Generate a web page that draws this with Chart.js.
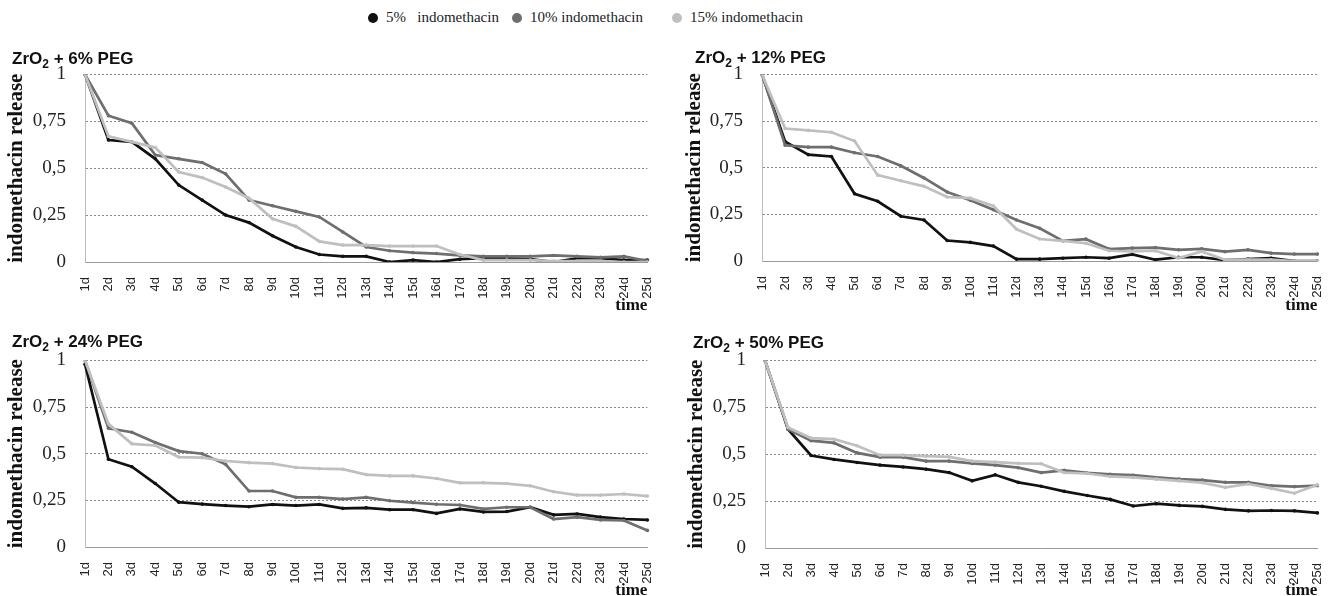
<!DOCTYPE html>
<html>
<head>
<meta charset="utf-8">
<script src="https://cdn.jsdelivr.net/npm/chart.js@4"></script>
<style>
  body { margin: 0; background: #fff; width: 1340px; height: 596px; position: relative; overflow: hidden; }
  canvas { position: absolute; }
  .item { position: absolute; top: 9px; display: flex; align-items: center; font: 15px "Liberation Serif", serif; color: #222; white-space: pre; }
  .dot { width: 10px; height: 10px; border-radius: 50%; margin-right: 8px; }
  .ptitle { position: absolute; font: bold 17px "Liberation Sans", sans-serif; line-height: 20px; color: #111; white-space: pre; }
  .ptitle sub { font-size: 12px; vertical-align: -4px; line-height: 0; }
</style>
</head>
<body>
<canvas id="c6" width="670" height="272" style="left:0;top:44px"></canvas>
<canvas id="c12" width="660" height="272" style="left:680px;top:44px"></canvas>
<canvas id="c24" width="670" height="276" style="left:0;top:330px"></canvas>
<canvas id="c50" width="660" height="276" style="left:680px;top:330px"></canvas>
<script>
const days = ["1d","2d","3d","4d","5d","6d","7d","8d","9d","10d","11d","12d","13d",
  "14d","15d","16d","17d","18d","19d","20d","21d","22d","23d","24d","25d"];
const seriesNames = ["5%   indomethacin", "10% indomethacin", "15% indomethacin"];
const seriesColors = ["#111111", "#6e6e6e", "#bfbfbf"];
const panelPeg = ["6%", "12%", "24%", "50%"];
const yTickValues = [0, 0.25, 0.5, 0.75, 1];
const yTickLabels = ["0", "0,25", "0,5", "0,75", "1"];

// ZrO2 + 6% PEG
const peg6_5 = [1, 0.65, 0.64, 0.55, 0.41, 0.33, 0.25, 0.21, 0.14, 0.08, 0.04, 0.03, 0.03, 0.0, 0.01, 0.0, 0.015, 0.02, 0.02, 0.015, 0.0, 0.02, 0.02, 0.01, 0.01];
const peg6_10 = [1, 0.78, 0.74, 0.57, 0.55, 0.53, 0.47, 0.33, 0.30, 0.27, 0.24, 0.16, 0.08, 0.06, 0.05, 0.045, 0.035, 0.03, 0.03, 0.03, 0.035, 0.03, 0.025, 0.03, 0.005];
const peg6_15 = [1, 0.67, 0.64, 0.61, 0.48, 0.45, 0.40, 0.34, 0.23, 0.19, 0.11, 0.09, 0.09, 0.085, 0.085, 0.085, 0.04, 0.01, 0.01, 0.01, 0.005, 0.005, 0.005, 0, 0];

// ZrO2 + 12% PEG
const peg12_5 = [1, 0.64, 0.57, 0.56, 0.36, 0.32, 0.24, 0.22, 0.11, 0.10, 0.08, 0.01, 0.01, 0.015, 0.02, 0.015, 0.035, 0.007, 0.02, 0.02, 0.005, 0.01, 0.015, 0, 0];
const peg12_10 = [1, 0.62, 0.61, 0.61, 0.58, 0.56, 0.51, 0.445, 0.37, 0.325, 0.275, 0.22, 0.175, 0.108, 0.117, 0.064, 0.069, 0.072, 0.06, 0.065, 0.05, 0.06, 0.042, 0.037, 0.037];
const peg12_15 = [1, 0.71, 0.70, 0.69, 0.643, 0.46, 0.43, 0.40, 0.343, 0.337, 0.295, 0.17, 0.118, 0.108, 0.095, 0.055, 0.051, 0.055, 0.016, 0.051, 0.007, 0.007, 0.007, 0, 0];

// ZrO2 + 24% PEG
const peg24_5 = [0.98, 0.47, 0.43, 0.34, 0.24, 0.23, 0.222, 0.216, 0.228, 0.222, 0.228, 0.207, 0.21, 0.2, 0.2, 0.18, 0.204, 0.188, 0.19, 0.213, 0.172, 0.177, 0.16, 0.15, 0.145];
const peg24_10 = [1, 0.636, 0.615, 0.56, 0.514, 0.5, 0.443, 0.30, 0.30, 0.266, 0.266, 0.257, 0.266, 0.248, 0.238, 0.229, 0.225, 0.204, 0.213, 0.213, 0.15, 0.16, 0.145, 0.142, 0.089];
const peg24_15 = [1, 0.66, 0.553, 0.544, 0.482, 0.479, 0.461, 0.452, 0.447, 0.426, 0.42, 0.417, 0.388, 0.381, 0.381, 0.367, 0.344, 0.344, 0.34, 0.328, 0.296, 0.278, 0.278, 0.284, 0.273];

// ZrO2 + 50% PEG
const peg50_5 = [1, 0.633, 0.493, 0.472, 0.456, 0.442, 0.432, 0.42, 0.402, 0.358, 0.39, 0.35, 0.329, 0.302, 0.28, 0.259, 0.224, 0.236, 0.227, 0.222, 0.206, 0.198, 0.2, 0.198, 0.187];
const peg50_10 = [1, 0.633, 0.572, 0.56, 0.507, 0.484, 0.484, 0.463, 0.463, 0.451, 0.442, 0.428, 0.402, 0.414, 0.4, 0.393, 0.388, 0.376, 0.367, 0.362, 0.35, 0.35, 0.332, 0.327, 0.332];
const peg50_15 = [1, 0.642, 0.586, 0.58, 0.545, 0.495, 0.495, 0.49, 0.486, 0.463, 0.458, 0.451, 0.449, 0.402, 0.397, 0.381, 0.376, 0.367, 0.358, 0.348, 0.323, 0.341, 0.318, 0.292, 0.337];

// legend on top (html)
const legendLeft = [368, 512, 672];
seriesNames.forEach((name, i) => {
  const item = document.createElement("div");
  item.className = "item";
  item.style.left = legendLeft[i] + "px";
  item.innerHTML = `<span class="dot" style="background:${seriesColors[i]}"></span><span>${name}</span>`;
  document.body.appendChild(item);
});

function addTitle(peg, left, top) {
  const t = document.createElement("div");
  t.className = "ptitle";
  t.style.left = left + "px";
  t.style.top = top + "px";
  t.innerHTML = `ZrO<sub>2</sub> + ${peg} PEG`;
  document.body.appendChild(t);
}

function drawPanel(id, series, g) {
  const ctx = document.getElementById(id).getContext("2d");
  return new Chart(ctx, {
    type: "line",
    data: {
      labels: days,
      datasets: series.map((data, i) => ({
        label: seriesNames[i],
        data: data,
        borderColor: seriesColors[i],
        backgroundColor: seriesColors[i],
        borderWidth: 2.7,
        pointRadius: 1.8,
        pointBorderWidth: 0,
        tension: 0,
        order: 3 - i,
      })),
    },
    options: {
      responsive: false,
      animation: false,
      devicePixelRatio: 1,
      layout: { padding: { left: g.padL, right: g.padR, top: g.padT, bottom: 0 } },
      plugins: {
        legend: { display: false },
        tooltip: { enabled: false },
      },
      scales: {
        x: {
          afterFit: (s) => { s.height = g.xh; },
          grid: { display: false },
          border: { display: true, color: "#999" },
          ticks: {
            color: "#222",
            font: { family: "'Liberation Sans', sans-serif", size: 13 },
            minRotation: 90,
            maxRotation: 90,
            autoSkip: false,
            padding: 7,
          },
          title: {
            display: true,
            text: "time",
            align: "end",
            color: "#111",
            font: { family: "'Liberation Serif', serif", size: 17, weight: "bold" },
            padding: { top: 0, bottom: g.timePad },
          },
        },
        y: {
          min: 0,
          max: 1,
          afterFit: (s) => { s.width = g.yw; },
          afterBuildTicks: (s) => { s.ticks = yTickValues.map((v) => ({ value: v })); },
          grid: { color: "#888", lineWidth: 1, drawTicks: false },
          border: { display: true, color: "#bbb", dash: [2, 2] },
          ticks: {
            color: "#222",
            padding: 19,
            font: { family: "'Liberation Serif', serif", size: 19 },
            callback: (v) => yTickLabels[yTickValues.indexOf(v)],
          },
          title: {
            display: true,
            text: "indomethacin release",
            color: "#111",
            font: { family: "'Liberation Serif', serif", size: 21, weight: "bold" },
            padding: { top: 0, bottom: 0 },
          },
        },
      },
    },
  });
}

addTitle(panelPeg[0], 12, 49);
addTitle(panelPeg[1], 695, 48);
addTitle(panelPeg[2], 12, 332);
addTitle(panelPeg[3], 693, 333);

drawPanel("c6", [peg6_5, peg6_10, peg6_15],
  { padL: 4, padR: 14, padT: 30, yw: 81, xh: 54, timePad: 0 });
drawPanel("c12", [peg12_5, peg12_10, peg12_15],
  { padL: 2, padR: 7, padT: 29, yw: 80, xh: 55, timePad: 0 });
drawPanel("c24", [peg24_5, peg24_10, peg24_15],
  { padL: 4, padR: 14, padT: 29, yw: 81, xh: 59, timePad: 5 });
drawPanel("c50", [peg50_5, peg50_10, peg50_15],
  { padL: 4, padR: 5, padT: 28, yw: 81, xh: 58, timePad: 5 });
</script>
</body>
</html>
